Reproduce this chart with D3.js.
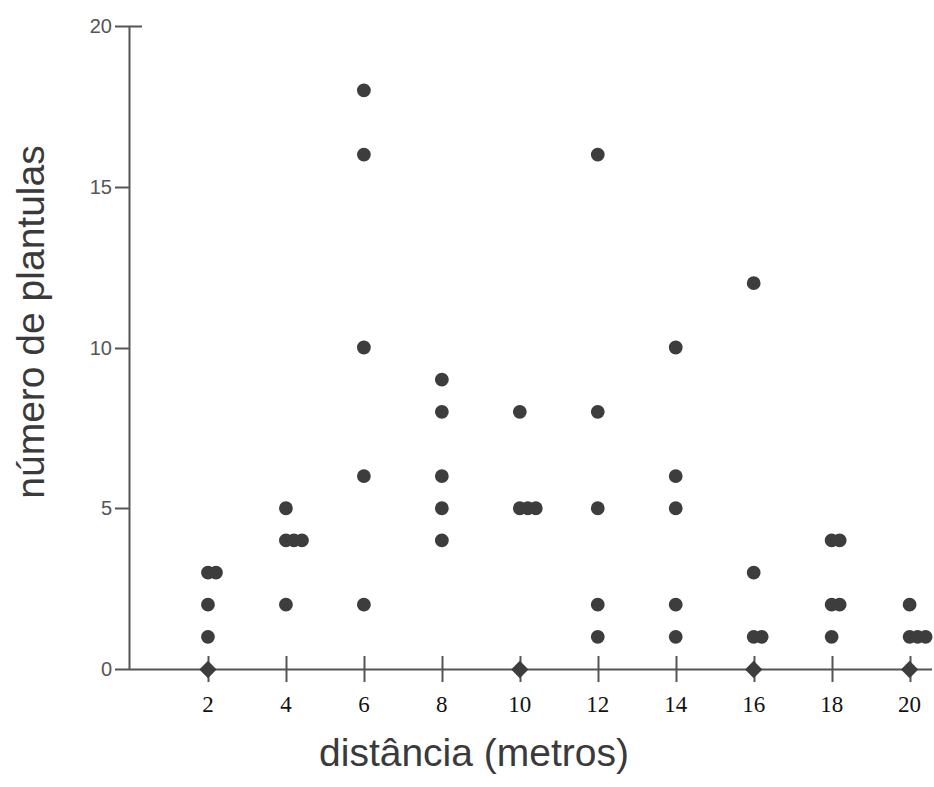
<!DOCTYPE html>
<html>
<head>
<meta charset="utf-8">
<script src="https://cdn.jsdelivr.net/npm/d3@7"></script>
<style>
  body { margin: 0; background: #fff; }
  svg { display: block; }
</style>
</head>
<body>
<div id="chart"></div>
<script>

// one entry per plot, same order in both arrays
var distancia = [2,2,2,2,2, 4,4,4,4,4, 6,6,6,6,6, 8,8,8,8,8, 10,10,10,10,10,
                 12,12,12,12,12, 14,14,14,14,14, 16,16,16,16,16, 18,18,18,18,18, 20,20,20,20,20];
var plantulas = [0,1,2,3,3, 2,4,4,4,5, 2,6,10,16,18, 4,5,6,8,9, 0,5,5,5,8,
                 1,2,5,8,16, 1,2,5,6,10, 0,1,1,3,12, 1,2,2,4,4, 0,1,1,1,2];

var xTicks = [2,4,6,8,10,12,14,16,18,20];
var yTicks = [0,5,10,15,20];

var svgWidth = 934, svgHeight = 787;

var svg = d3.select("#chart").append("svg")
  .attr("width", svgWidth)
  .attr("height", svgHeight);

// set the drawing ranges
var x = d3.scaleLinear().domain([0, 20.6]).range([130, 933]);
var y = d3.scaleLinear().domain([0, 20]).range([669, 26]);

var axisColor = "#555";

// build points; repeated values at the same distance are shifted right
var seen = {};
var points = distancia.map(function(d, i) {
  var key = d + "_" + plantulas[i];
  var k = seen[key] || 0;
  seen[key] = k + 1;
  return { x: d, y: plantulas[i], k: k };
});

// y axis
var yAxis = svg.append("g").attr("class", "axis");
yAxis.append("line")
  .attr("x1", 129.5).attr("x2", 129.5)
  .attr("y1", y(20)).attr("y2", y(0))
  .attr("stroke", axisColor).attr("stroke-width", 2);

yAxis.selectAll(".ytick")
  .data(yTicks)
  .enter().append("line")
  .attr("x1", 115)
  .attr("x2", function(d) { return d == 20 ? 142 : 129; })
  .attr("y1", function(d) { return Math.round(y(d)) + 0.5; })
  .attr("y2", function(d) { return Math.round(y(d)) + 0.5; })
  .attr("stroke", axisColor).attr("stroke-width", 2);

yAxis.selectAll(".ylabel")
  .data(yTicks)
  .enter().append("text")
  .attr("x", 112)
  .attr("y", function(d) { return y(d) + 7; })
  .attr("text-anchor", "end")
  .style("font", "20px 'Liberation Sans', Arial, sans-serif")
  .attr("fill", "#555")
  .text(function(d) { return d; });

// x axis
var xAxis = svg.append("g").attr("class", "axis");
xAxis.append("line")
  .attr("x1", 129).attr("x2", 932)
  .attr("y1", 669.5).attr("y2", 669.5)
  .attr("stroke", axisColor).attr("stroke-width", 2);

xAxis.selectAll(".xtick")
  .data(xTicks)
  .enter().append("line")
  .attr("x1", function(d) { return Math.round(x(d)) + 0.5; })
  .attr("x2", function(d) { return Math.round(x(d)) + 0.5; })
  .attr("y1", 656).attr("y2", 682)
  .attr("stroke", axisColor).attr("stroke-width", 2);

xAxis.selectAll(".xlabel")
  .data(xTicks)
  .enter().append("text")
  .attr("x", function(d) { return x(d); })
  .attr("y", 712)
  .attr("text-anchor", "middle")
  .style("font", "23px 'Liberation Serif', 'Times New Roman', serif")
  .attr("fill", "#111")
  .text(function(d) { return d; });

// dots (zeros sit on the axis and look like diamonds)
svg.append("g")
  .selectAll("path")
  .data(points)
  .enter()
  .append("path")
  .attr("transform", function(d) {
    var t = "translate(" + (x(d.x) + d.k * 8) + "," + (y(d.y) + (d.y == 0 ? 0.5 : 0)) + ")";
    return d.y == 0 ? t + " rotate(45)" : t;
  })
  .attr("d", function(d) {
    if (d.y == 0) return d3.symbol().type(d3.symbolSquare).size(150)();
    return d3.symbol().type(d3.symbolCircle).size(150)();
  })
  .attr("fill", "#3d3d3d");

// titles
svg.append("text")
  .attr("x", 474)
  .attr("y", 766)
  .attr("text-anchor", "middle")
  .style("font", "39px 'Liberation Sans', Arial, sans-serif")
  .attr("fill", "#3a3a3a")
  .text("distância (metros)");

svg.append("text")
  .attr("transform", "translate(44,322) rotate(-90)")
  .attr("text-anchor", "middle")
  .style("font", "39px 'Liberation Sans', Arial, sans-serif")
  .attr("fill", "#3a3a3a")
  .text("número de plantulas");

</script>
</body>
</html>
